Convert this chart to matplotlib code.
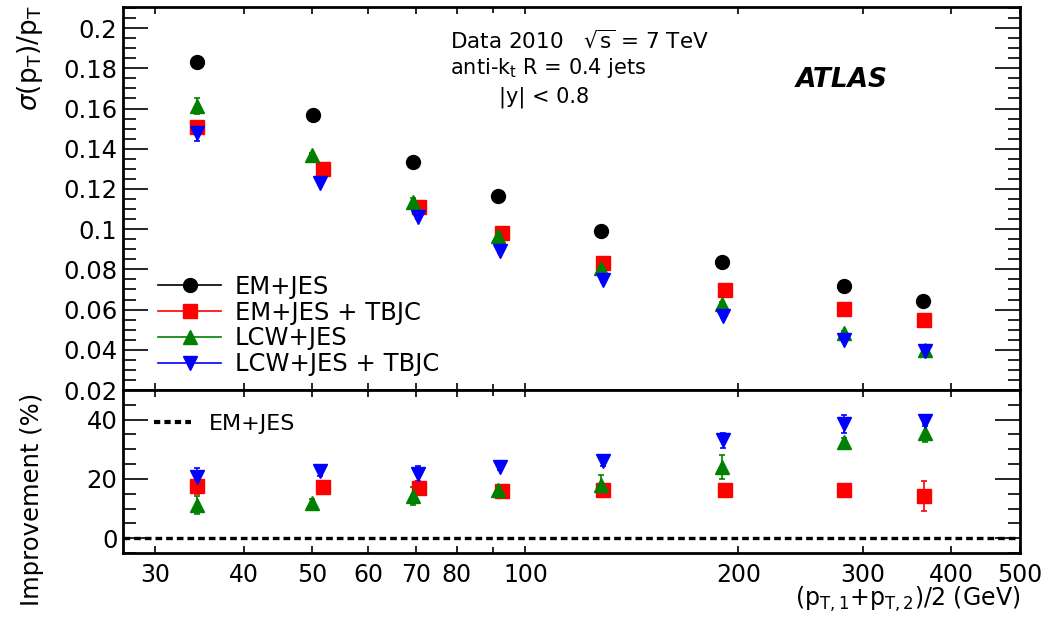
import matplotlib
matplotlib.use("Agg")
import matplotlib.pyplot as plt
from matplotlib.lines import Line2D
from matplotlib.ticker import FixedLocator, MultipleLocator, NullFormatter

plt.rcParams['font.family'] = ['DejaVu Sans']
plt.rcParams['mathtext.fontset'] = 'dejavusans'

# mean pT per bin (GeV), slightly different per calibration scheme
x_em = [34.4, 50.1, 69.4, 91.6, 127.7, 189.9, 281.7, 364.3]
x_em_tbjc = [34.4, 51.8, 70.8, 92.8, 128.9, 191.2, 281.7, 365.5]
x_lcw = [34.4, 50.0, 69.4, 91.6, 127.7, 189.9, 281.7, 366.7]
x_lcw_tbjc = [34.4, 51.3, 70.6, 92.2, 128.9, 190.5, 281.7, 366.7]

# resolution sigma(pT)/pT
res_em = [0.1831, 0.1566, 0.1334, 0.1163, 0.0993, 0.0837, 0.0718, 0.0642]
res_em_tbjc = [0.1508, 0.1298, 0.1111, 0.0981, 0.0833, 0.0696, 0.0602, 0.0547]
res_lcw = [0.1614, 0.1367, 0.1136, 0.0968, 0.0807, 0.0626, 0.0482, 0.0400]
res_lcw_tbjc = [0.1479, 0.1228, 0.1059, 0.0889, 0.0746, 0.0570, 0.0449, 0.0392]

err_em = [0.002, 0.001, 0.002, 0.001, 0.001, 0.001, 0.001, 0.001]
err_em_tbjc = [0.003, 0.001, 0.001, 0.001, 0.001, 0.001, 0.001, 0.001]
err_lcw = [0.004, 0.001, 0.002, 0.001, 0.001, 0.001, 0.001, 0.001]
err_lcw_tbjc = [0.004, 0.001, 0.001, 0.001, 0.001, 0.001, 0.001, 0.001]

# improvement w.r.t. EM+JES (%)
imp_em_tbjc = [17.5, 17.2, 16.8, 15.8, 16.4, 16.2, 16.1, 14.3]
imp_lcw = [11.3, 11.8, 14.2, 16.2, 17.8, 24.0, 32.3, 35.5]
imp_lcw_tbjc = [20.6, 22.6, 21.8, 24.0, 26.0, 33.0, 38.6, 39.7]

ierr_em_tbjc = [2.5, 1.5, 2.0, 1.5, 1.5, 1.0, 1.0, 5.0]
ierr_lcw = [3.0, 1.5, 3.0, 1.5, 3.5, 4.0, 1.5, 3.0]
ierr_lcw_tbjc = [3.0, 1.5, 2.5, 1.0, 1.5, 2.5, 3.0, 2.0]

xticks = [30, 40, 50, 60, 70, 80, 100, 200, 300, 400, 500]
xticklabels = ['30', '40', '50', '60', '70', '80', '100', '200', '300', '400', '500']

W, H = 1048, 626
fig = plt.figure(figsize=(W / 100, H / 100), dpi=100)

def fx(px):
    return px / W

def fy(py):
    return 1 - py / H

ax1 = fig.add_axes([fx(123), fy(390), fx(1020) - fx(123), fy(7) - fy(390)])
ax2 = fig.add_axes([fx(123), fy(553), fx(1020) - fx(123), fy(390) - fy(553)], sharex=ax1)

ms = 10
ekw = dict(linestyle='none', capsize=2, elinewidth=1.2, capthick=1.2)
ax1.errorbar(x_em, res_em, yerr=err_em, marker='o', color='black', ms=ms, **ekw)
ax1.errorbar(x_em_tbjc, res_em_tbjc, yerr=err_em_tbjc, marker='s', color='red', ms=ms - 0.5, **ekw)
ax1.errorbar(x_lcw, res_lcw, yerr=err_lcw, marker='^', color='green', ms=ms, **ekw)
ax1.errorbar(x_lcw_tbjc, res_lcw_tbjc, yerr=err_lcw_tbjc, marker='v', color='blue', ms=ms, **ekw)

ax2.axhline(0, color='black', lw=2.4, linestyle=(0, (2, 1.2)))
ax2.errorbar(x_em_tbjc, imp_em_tbjc, yerr=ierr_em_tbjc, marker='s', color='red', ms=ms - 0.5, **ekw)
ax2.errorbar(x_lcw, imp_lcw, yerr=ierr_lcw, marker='^', color='green', ms=ms, **ekw)
ax2.errorbar(x_lcw_tbjc, imp_lcw_tbjc, yerr=ierr_lcw_tbjc, marker='v', color='blue', ms=ms, **ekw)

ax1.set_xscale('log')
ax1.set_xlim(27, 500)
ax1.set_ylim(0.02, 0.2105)
ax2.set_ylim(-5, 50)

for ax in (ax1, ax2):
    ax.xaxis.set_major_locator(FixedLocator(xticks))
    ax.xaxis.set_minor_locator(FixedLocator([90]))
    ax.xaxis.set_minor_formatter(NullFormatter())
    ax.tick_params(axis='both', which='both', direction='in', top=True, right=True,
                   labelsize=17.5, width=1.2)
    ax.tick_params(axis='y', which='major', length=18, pad=4)
    ax.tick_params(axis='y', which='minor', length=9)
    ax.tick_params(axis='x', which='major', length=5)
    ax.tick_params(axis='x', which='minor', length=4)
    for s in ax.spines.values():
        s.set_linewidth(2)

ax1.set_yticks([0.02, 0.04, 0.06, 0.08, 0.1, 0.12, 0.14, 0.16, 0.18, 0.2])
ax1.set_yticklabels(['0.02', '0.04', '0.06', '0.08', '0.1', '0.12', '0.14', '0.16', '0.18', '0.2'])
ax1.yaxis.set_minor_locator(MultipleLocator(0.005))
ax1.tick_params(axis='x', labelbottom=False)

ax2.set_yticks([0, 20, 40])
ax2.yaxis.set_minor_locator(MultipleLocator(5))
ax2.set_xticks(xticks)
ax2.set_xticklabels(xticklabels)
ax2.tick_params(axis='x', labelsize=17, pad=7)

fig.text(fx(30), fy(5), r'$\sigma$(p$_\mathrm{T}$)/p$_\mathrm{T}$', rotation=90,
         ha='center', va='top', fontsize=19)
fig.text(fx(32), fy(393), 'Improvement (%)', rotation=90, ha='center', va='top', fontsize=17.5)
fig.text(fx(1020), fy(606), r'(p$_\mathrm{T,1}$+p$_\mathrm{T,2}$)/2 (GeV)',
         ha='right', va='baseline', fontsize=17)

# top legend, ROOT-like: line through marker
handles = [
    Line2D([], [], color='black', marker='o', ms=ms, lw=1.2),
    Line2D([], [], color='red', marker='s', ms=ms - 0.5, lw=1.2),
    Line2D([], [], color='green', marker='^', ms=ms, lw=1.2),
    Line2D([], [], color='blue', marker='v', ms=ms, lw=1.2),
]
labels = ['EM+JES', 'EM+JES + TBJC', 'LCW+JES', 'LCW+JES + TBJC']
ax1.legend(handles, labels, loc='upper left', bbox_to_anchor=(fx(158), fy(275)),
           bbox_transform=fig.transFigure, frameon=False, fontsize=17.5,
           handlelength=2.6, handletextpad=0.55, labelspacing=0.07, borderpad=0,
           borderaxespad=0)

ax2.legend([Line2D([], [], color='black', lw=3, linestyle=(0, (1.5, 1)))], ['EM+JES'],
           loc='upper left', bbox_to_anchor=(fx(154), fy(414)), bbox_transform=fig.transFigure,
           frameon=False, fontsize=16, handlelength=1.65, handletextpad=0.8,
           borderpad=0, borderaxespad=0)

fig.text(fx(450), fy(40), r'Data 2010   $\sqrt{\mathrm{s}}$ = 7 TeV', ha='left', va='center', fontsize=15.5)
fig.text(fx(450), fy(68), r'anti-k$_\mathrm{t}$ R = 0.4 jets', ha='left', va='center', fontsize=15)
fig.text(fx(499), fy(97), '|y| < 0.8', ha='left', va='center', fontsize=15)
fig.text(fx(796), fy(80), 'ATLAS', ha='left', va='center', fontsize=19,
         fontweight='bold', fontstyle='italic')

fig.savefig('out.png', dpi=100)
